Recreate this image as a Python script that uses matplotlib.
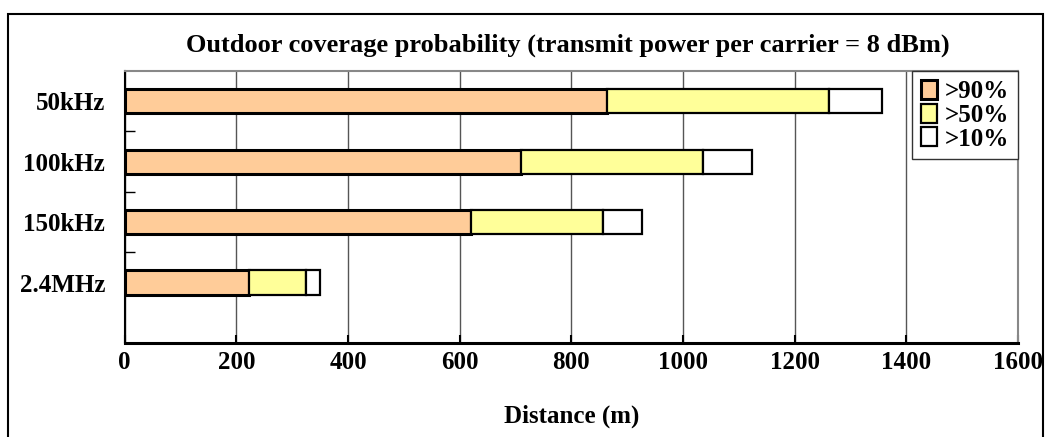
import numpy as np
import matplotlib
matplotlib.use('Agg')
import matplotlib.pyplot as plt
from matplotlib.patches import Rectangle

# bandwidths, top to bottom
bands = ['50kHz', '100kHz', '150kHz', '2.4MHz']

# distance (m) reached at each coverage probability
d90 = [864, 709, 621, 223]
d50 = [1261, 1035, 857, 324]
d10 = [1356, 1124, 927, 350]

series = ['>90%', '>50%', '>10%']
colors = ['#FFCC99', '#FFFF99', '#FFFFFF']

x_ticks = [0, 200, 400, 600, 800, 1000, 1200, 1400, 1600]

plt.rcParams['font.family'] = ['Liberation Serif', 'DejaVu Serif']
plt.rcParams['font.weight'] = 'bold'

fig = plt.figure(figsize=(10.46, 4.37), dpi=100)
ax = fig.add_axes([0.1192, 0.2151, 0.8541, 0.6224])

# outer chart frame
fig.patches.append(Rectangle((8 / 1046, -0.01), (1043 - 8) / 1046, (437 - 14) / 437 + 0.01,
                             transform=fig.transFigure, fill=False, edgecolor='black',
                             linewidth=1.5, zorder=0))

y = np.arange(len(bands))
h = 0.4

# each segment starts where the previous one ends
starts = [np.zeros(len(bands)), np.array(d90), np.array(d50)]
ends = [np.array(d90), np.array(d50), np.array(d10)]
handles = []
for s, e, c, lab, lw in zip(starts, ends, colors, series, [2.2, 1.6, 1.6]):
    b = ax.barh(y, e - s, left=s, height=h, color=c, edgecolor='black',
                linewidth=lw, label=lab, zorder=3)
    handles.append(b)

ax.set_xlim(0, 1600)
ax.set_ylim(4.0, -0.5)
ax.set_xticks(x_ticks)
ax.set_xticklabels([str(t) for t in x_ticks], fontsize=18, fontweight='bold')
ax.tick_params(axis='x', direction='in', length=6, width=1.5, pad=6)

ax.set_yticks(y)
ax.set_yticklabels(bands, fontsize=18, fontweight='bold')
ax.tick_params(axis='y', which='major', length=0, pad=14)
ax.set_yticks([0.5, 1.5, 2.5], minor=True)
ax.tick_params(axis='y', which='minor', direction='in', length=7, width=1.0)

ax.grid(axis='x', color='#555555', linewidth=1.0, zorder=0)
ax.set_axisbelow(True)

ax.spines['left'].set_color('black')
ax.spines['left'].set_linewidth(1.5)
ax.spines['bottom'].set_color('black')
ax.spines['bottom'].set_linewidth(2.2)
ax.spines['top'].set_color('#888888')
ax.spines['top'].set_linewidth(1.5)
ax.spines['right'].set_color('#888888')
ax.spines['right'].set_linewidth(1.5)

ax.set_xlabel('Distance (m)', fontsize=18, fontweight='bold', labelpad=22)
fig.text(0.543, 0.897, 'Outdoor coverage probability (transmit power per carrier = 8 dBm)',
         ha='center', va='center', fontsize=19, fontweight='bold')

leg = ax.legend(handles=handles, loc='upper right', bbox_to_anchor=(1.0, 1.0),
                fontsize=18, frameon=True, fancybox=False, framealpha=1,
                edgecolor='#333333', handlelength=0.65, handleheight=0.8,
                handletextpad=0.3, labelspacing=0.02, borderpad=0.35,
                borderaxespad=0)
leg.get_frame().set_linewidth(1.0)
for t in leg.get_texts():
    t.set_fontweight('bold')

fig.savefig('out.png', dpi=100)
